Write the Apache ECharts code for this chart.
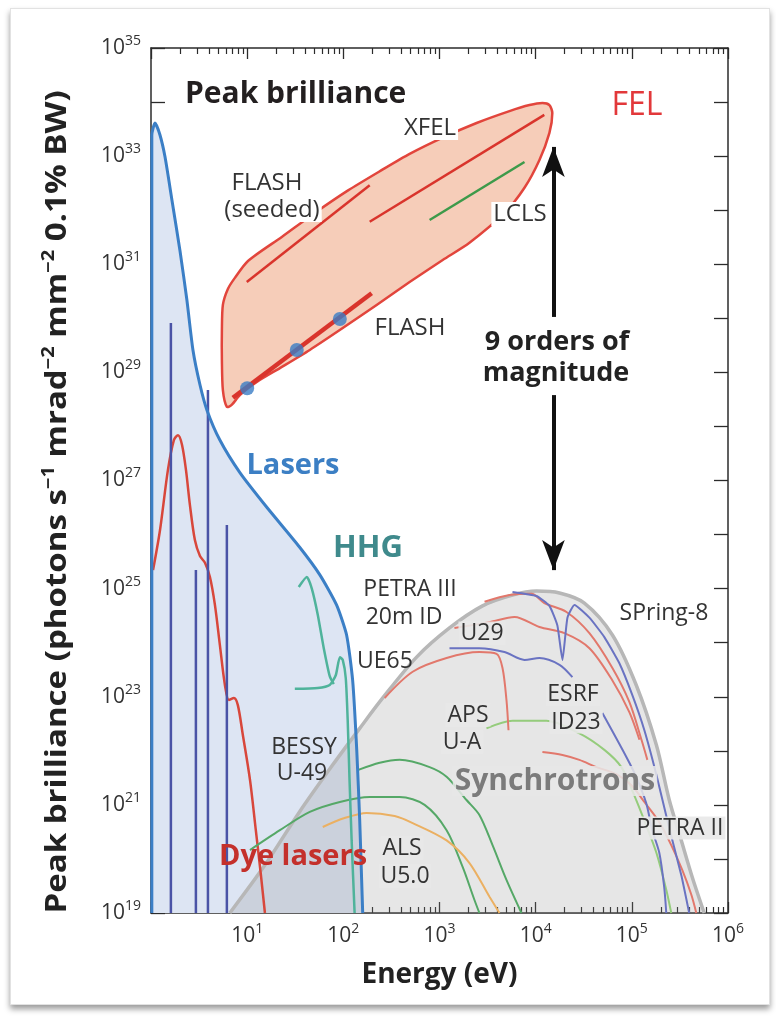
<!DOCTYPE html>
<html>
<head>
<meta charset="utf-8">
<title>Peak brilliance</title>
<script src="https://cdn.jsdelivr.net/npm/echarts@6/dist/echarts.min.js"></script>
<style>
    html, body { margin: 0; padding: 0; background: #fff; }
    #card {
        position: absolute; left: 10px; top: 8px; width: 758px; height: 995px;
        background: #fff; border: 1px solid #e2e2e2;
        box-shadow: 0 4px 6px rgba(0, 0, 0, 0.4);
    }
    #chart { position: absolute; left: 0; top: 0; width: 776px; height: 1023px; }
</style>
</head>
<body>
<div id="card"></div>
<div id="chart"></div>
<script>
    const FONT = '"Open Sans", "Noto Sans", sans-serif';

    // [energy eV, peak brilliance]
    const laserEnvelope = [[1.02, 1e19], [1.02, 2.46e33], [1.10, 4.1e33], [1.24, 2.46e33], [1.40, 9.6e32],
        [1.65, 1.55e32], [2.0, 1.8e31], [2.36, 2.2e30], [2.73, 2.6e29], [3.23, 5.9e28], [3.82, 2.0e28],
        [5.2, 5.6e27], [8.4, 1.4e27], [16, 3.2e26], [35, 5.9e25], [57, 1.8e25], [85, 5.0e24], [108, 1.4e24],
        [125, 2.0e23], [138, 1.0e22], [148, 5.2e20], [155, 4.1e19], [159, 1e19]];
    const dyeLasers = [[1.05, 2.2e25], [1.24, 1.2e26], [1.50, 1.57e27], [1.73, 5.6e27], [1.91, 6.9e27],
        [2.10, 4.6e27], [2.31, 1.57e27], [2.54, 3.5e26], [2.86, 7.9e25], [3.23, 4.0e25], [3.64, 3.0e25],
        [4.1, 1.64e25], [4.62, 5.0e24], [5.2, 9.1e23], [5.87, 1.65e23], [6.46, 8.7e22], [7.28, 9.5e22],
        [8.0, 7.0e22], [9.0, 2.0e22], [10.7, 2.9e21], [12.3, 3.4e20], [13.9, 5.0e19], [15.3, 1e19]];
    // single laser lines: [energy, top]
    const laserLines = [[1.61, 8.2e29], [2.93, 2.2e25], [3.91, 4.7e28], [6.15, 1.5e26]];
    const hhgHook = [[34.4, 1.07e25], [41.7, 1.64e25], [47, 1.0e25], [54.2, 3.3e24], [62.6, 7.9e23],
        [72.2, 2.4e23], [79.5, 1.72e23]];
    const hhgUE65 = [[31.3, 1.4e23], [54.2, 1.45e23], [72.2, 1.65e23], [83.4, 2.5e23], [92, 5.4e23],
        [98.6, 4.8e23], [106, 2.2e23], [111, 3.7e22], [116, 2.9e21], [122, 2.2e20], [131, 1e19]];

    const felOutline = [[6.15, 2.3e28], [5.59, 4.7e28], [5.46, 1.7e29], [5.46, 6.1e29], [5.59, 1.77e30],
        [6.3, 3.5e30], [7.45, 5.6e30], [10.2, 1.15e31], [22.9, 3.2e31], [50.5, 8.9e31], [111, 2.3e32],
        [250, 5.5e32], [489, 1.1e33], [1080, 2.2e33], [2430, 4.1e33], [5340, 6.8e33], [8630, 8.8e33],
        [11750, 9.6e33], [13900, 8.8e33], [14900, 6.3e33], [13900, 2.7e33], [10950, 8.5e32], [7650, 2.6e32],
        [4740, 8.9e31], [2050, 2.5e31], [1080, 1.2e31], [489, 4.7e30], [222, 1.77e30], [98.6, 6.6e29],
        [44.8, 2.6e29], [21.9, 1.2e29], [13.5, 7.2e28], [8.4, 3.8e28], [6.9, 2.5e28]];
    const flashSeeded = [[9.9, 4.7e30], [188, 2.9e32]];
    const xfel = [[188, 6.1e31], [12300, 5.8e33]];
    const lcls = [[789, 6.6e31], [7650, 7.8e32]];
    const flash = [[7.1, 3.4e28], [197, 2.9e30]];
    const flashPoints = [[10, 5.1e28], [32.8, 2.6e29], [92, 9.7e29]];

    const syncEnvelope = [[6.6, 1e19], [15.3, 7.7e19], [35, 7.4e20], [77.6, 5.5e21], [148, 2.6e22],
        [257, 9.5e22], [578, 5.4e23], [1270, 1.87e24], [2800, 4.8e24], [5740, 7.6e24], [10200, 9.0e24],
        [17700, 8.3e24], [32100, 5.4e24], [62800, 1.39e24], [111000, 1.65e23], [180000, 1.28e22],
        [245000, 1.23e21], [327000, 2.2e20], [425000, 4.6e19], [566000, 1e19]];
    const greenLow = [[10.7, 1.46e20], [21.9, 3.4e20], [44.8, 7.4e20], [92, 1.13e21], [188, 1.4e21],
        [385, 1.4e21], [700, 1.0e21], [1185, 3.4e20], [1740, 7.1e19], [2310, 1.74e19], [2600, 1e19]];
    const greenU49 = [[141, 4.4e21], [239, 6.0e21], [385, 6.8e21], [789, 5.0e21], [1185, 3.3e21],
        [1910, 1.23e21], [2600, 6.5e20], [3560, 1.8e20], [4970, 4.1e19], [7120, 1e19]];
    const greenAPS = [[3080, 2.6e22], [5740, 3.6e22], [12900, 3.6e22], [28500, 2.1e22], [51800, 1.04e22],
        [77800, 5.0e21], [106000, 1.5e21], [141000, 4.2e20], [180000, 1.3e20], [228000, 2.7e19], [257000, 1e19]];
    const orangeALS = [[61.1, 3.9e20], [103, 5.7e20], [175, 7.1e20], [342, 6.2e20], [526, 4.6e20],
        [1185, 2.2e20], [2050, 8.4e19], [3310, 2.0e19], [4200, 1e19]];
    const redUA = [[269, 9.5e22], [526, 2.9e23], [1185, 5.2e23], [2600, 6.7e23], [3920, 6.2e23],
        [4520, 3.4e23], [4970, 8.7e22], [5220, 2.4e22]];
    const redPetra3 = [[2940, 5.7e24], [5340, 7.6e24], [9040, 8.0e24], [12300, 5.4e24], [20900, 3.7e24],
        [36200, 1.5e24], [62800, 3.4e23], [94200, 8.0e22], [126000, 1.6e22], [145000, 6.8e21]];
    const redU29 = [[1430, 1.87e24], [3310, 2.4e24], [6030, 3.0e24], [10950, 1.95e24], [19900, 1.5e24],
        [36200, 7.9e23], [62800, 2.0e23], [94200, 5.2e22], [120000, 1.6e22]];
    const redPetra2 = [[11750, 9.5e21], [19000, 8.4e21], [28500, 6.8e21], [42800, 5.0e21], [69000, 3.7e21],
        [98900, 2.3e21], [135000, 1.13e21], [193000, 4.8e20], [257000, 1.8e20], [335000, 6.2e19],
        [415000, 2.2e19], [468000, 1e19]];
    const blueU29 = [[1270, 7.9e23], [2600, 7.9e23], [4740, 6.7e23], [7650, 4.8e23], [10950, 5.2e23],
        [17700, 3.9e23], [24100, 2.3e23]];
    const blueSpring8 = [[5740, 8.7e24], [10200, 7.3e24], [13900, 4.8e24], [16800, 2.1e24], [19000, 4.8e23],
        [21400, 2.9e24], [25300, 5.0e24], [36200, 2.9e24], [51800, 1.27e24], [74000, 4.2e23],
        [101000, 1.08e23], [135000, 2.4e22], [180000, 3.6e21], [245000, 3.7e20], [327000, 5.0e19], [395000, 1e19]];
    const blueESRF = [[49400, 5.0e22], [87700, 7.7e21], [111000, 3.3e21], [141000, 1.08e21], [163000, 3.4e20],
        [193000, 1.3e20], [217000, 3.0e19], [228000, 1e19]];

    // double arrow "9 orders of magnitude"
    const arrowUp = [[15300, 1.06e30], [15300, 1.48e33]];
    const arrowDown = [[15300, 3.8e28], [15300, 2.2e25]];

    // axis ticks
    const yTickValues = [1e19, 1e20, 1e21, 1e22, 1e23, 1e24, 1e25, 1e26, 1e27, 1e28, 1e29, 1e30, 1e31, 1e32, 1e33, 1e34, 1e35];
    const yLabelValues = [1e19, 1e21, 1e23, 1e25, 1e27, 1e29, 1e31, 1e33, 1e35];
    const xTickValues = [1, 10, 100, 1e3, 1e4, 1e5, 1e6];
    const xLabelValues = [10, 100, 1e3, 1e4, 1e5, 1e6];
    const xMinorValues = [];
    xTickValues.slice(0, -1).forEach(d => {
        [2, 3, 4, 5, 6, 7, 8, 9].forEach(f => xMinorValues.push(f * d));
    });

    const chart = echarts.init(document.getElementById('chart'));

    const supRich = {
        b: { fontSize: 21, color: '#333', fontFamily: FONT, lineHeight: 28 },
        s: { fontSize: 14, color: '#333', fontFamily: FONT, verticalAlign: 'top', lineHeight: 14 },
    };
    const powLabel = v => '{b|10}{s|' + Math.round(Math.log10(v)) + '}';
    const axisLine = { show: true, onZero: false, lineStyle: { color: '#2b2b2b', width: 1.5 } };

    function xAxis(position, opts) {
        return Object.assign({
            type: 'log', logBase: 10, min: 1, max: 1e6, position,
            axisLine, splitLine: { show: false }, axisLabel: { show: false },
            axisTick: { inside: true, length: 11, customValues: xTickValues, lineStyle: { color: '#2b2b2b', width: 1.3 } },
        }, opts);
    }
    function minorAxis(position) {
        return xAxis(position, {
            axisLine: { show: false },
            axisTick: { inside: true, length: 6, customValues: xMinorValues, lineStyle: { color: '#2b2b2b', width: 1.2 } },
        });
    }
    function yAxis(position, opts) {
        return Object.assign({
            type: 'log', logBase: 10, min: 1e19, max: 1e35, position,
            axisLine, splitLine: { show: false }, axisLabel: { show: false },
            axisTick: { inside: true, length: 14, customValues: yTickValues, lineStyle: { color: '#2b2b2b', width: 1.3 } },
        }, opts);
    }

    function curve(data, color, width, z, smooth) {
        return {
            type: 'line', data, symbol: 'none', smooth: smooth == null ? 0.3 : smooth,
            lineStyle: { color, width }, z: z || 5, silent: true,
        };
    }
    function area(data, color, z) {
        return {
            type: 'line', data, symbol: 'none', smooth: 0.3, z,
            lineStyle: { width: 0, opacity: 0 },
            areaStyle: { color, opacity: 1, origin: 'start' }, silent: true,
        };
    }

    const GREY_BG = 'rgba(232,232,232,0.9)';
    const texts = [
        // [text, x, y, font, color, align, background]
        ['Peak brilliance', 185, 94, 'bold 30px', '#231f20', 'left'],
        ['FEL', 637, 106, '32px', '#e2383a'],
        ['XFEL', 430, 128, '24px', '#333', 'center', '#fff'],
        ['FLASH', 267, 183, '24px', '#333'],
        ['(seeded)', 272, 210, '24px', '#333', 'center', '#fff'],
        ['LCLS', 520, 214, '24px', '#333', 'center', '#fff'],
        ['FLASH', 410, 328, '24px', '#333'],
        ['9 orders of', 557, 342, 'bold 27px', '#222', 'center', '#fff'],
        ['magnitude', 556, 373, 'bold 27px', '#222', 'center', '#fff'],
        ['Lasers', 293, 466, 'bold 29px', '#3c7fc4'],
        ['HHG', 368, 548, 'bold 31px', '#3f8a8c'],
        ['PETRA III', 410, 589, '23px', '#333'],
        ['20m ID', 404, 617, '23px', '#333'],
        ['U29', 482, 633, '23px', '#333', 'center', GREY_BG],
        ['SPring-8', 664, 613, '23px', '#333'],
        ['UE65', 385, 661, '23px', '#333'],
        ['APS', 468, 715, '23px', '#333', 'center', GREY_BG],
        ['U-A', 462, 742, '23px', '#333', 'center', GREY_BG],
        ['ESRF', 573, 694, '23px', '#333', 'center', GREY_BG],
        ['ID23', 576, 722, '23px', '#333', 'center', GREY_BG],
        ['BESSY', 304, 747, '23px', '#333'],
        ['U-49', 302, 773, '23px', '#333'],
        ['Synchrotrons', 555, 781, 'bold 30px', '#7b7b7b', 'center', 'rgba(232,232,232,0.85)'],
        ['PETRA II', 680, 828, '23px', '#333', 'center', GREY_BG],
        ['ALS', 402, 848, '23px', '#333', 'center', GREY_BG],
        ['U5.0', 405, 876, '23px', '#333', 'center', GREY_BG],
        ['Dye lasers', 293, 857, 'bold 29px', '#c4302b'],
    ];

    // y axis title, stretched along its length like the original
    const yTitle = {
        type: 'text', x: 58, y: 502, rotation: Math.PI / 2, scaleX: 1.18, scaleY: 1, z: 100,
        style: {
            text: 'Peak brilliance (photons s{s|−1} mrad{s|−2} mm{s|−2} 0.1% BW)',
            font: 'bold 28px ' + FONT, fill: '#222',
            textAlign: 'center', textVerticalAlign: 'middle', align: 'center', verticalAlign: 'middle',
            lineHeight: 34,
            rich: { s: { fontSize: 17, fontWeight: 'bold', fontFamily: FONT, fill: '#222', verticalAlign: 'top', lineHeight: 17 } },
        },
    };

    chart.setOption({
        animation: false,
        backgroundColor: 'transparent',
        grid: { left: 151, right: 48, top: 48, bottom: 110 },
        xAxis: [
            xAxis('bottom', {
                name: 'Energy (eV)', nameLocation: 'middle', nameGap: 48,
                nameTextStyle: { fontSize: 28, fontWeight: 'bold', color: '#222', fontFamily: FONT },
                axisLabel: { show: true, margin: 9, customValues: xLabelValues, formatter: powLabel, rich: supRich },
            }),
            xAxis('top'),
            minorAxis('bottom'),
            minorAxis('top'),
        ],
        yAxis: [
            yAxis('left', {
                axisLabel: { show: true, margin: 10, customValues: yLabelValues, formatter: powLabel, rich: supRich },
            }),
            yAxis('right'),
        ],
        graphic: [yTitle].concat(texts.map(t => ({
            type: 'text', x: t[1], y: t[2], z: 100,
            style: {
                text: t[0], font: t[3] + ' ' + FONT, fill: t[4],
                textAlign: t[5] || 'center', textVerticalAlign: 'middle',
                align: t[5] || 'center', verticalAlign: 'middle',
                backgroundColor: t[6] || null, padding: t[6] ? [0, 2] : 0,
            },
        }))),
        series: [
            area(laserEnvelope, '#dde5f3', 1),
            area(syncEnvelope, 'rgba(140,140,140,0.22)', 2),
            {
                type: 'custom', coordinateSystem: 'cartesian2d', data: [felOutline[0]], z: 3, silent: true,
                renderItem: (params, api) => ({
                    type: 'polygon',
                    shape: { points: felOutline.map(p => api.coord(p)), smooth: 0.25 },
                    style: { fill: '#f6cdb9', stroke: '#e2453c', lineWidth: 2.5 },
                }),
            },
            curve(syncEnvelope, '#b7b7b7', 3.5, 4),
            curve(dyeLasers, '#d8473b', 2.5, 5),
            ...laserLines.map(l => curve([[l[0], 1e19], [l[0], l[1]]], '#4a53a6', 2.5, 5, false)),
            curve(laserEnvelope, '#3b7fc6', 3, 6, 0.2),
            curve(hhgHook, '#4fb39b', 2.5, 6, 0.2),
            curve(hhgUE65, '#4fb39b', 2.5, 6, 0.2),
            curve(greenLow, '#55a867', 2, 5),
            curve(greenU49, '#55a867', 2, 5),
            curve(greenAPS, '#95cc7c', 2, 5),
            curve(orangeALS, '#ebb062', 2, 5),
            curve(redUA, '#e2786c', 2, 5),
            curve(redPetra3, '#e2786c', 2, 5),
            curve(redU29, '#e2786c', 2, 5),
            curve(redPetra2, '#e2786c', 2, 5),
            curve(blueU29, '#6a73c2', 2, 5),
            curve(blueSpring8, '#6a73c2', 2, 5, 0.15),
            curve(blueESRF, '#6a73c2', 2, 5),
            curve(flashSeeded, '#d9342c', 2.5, 7, false),
            curve(xfel, '#d9342c', 2.5, 7, false),
            Object.assign(curve(lcls, '#3d9a4a', 2.5, 7, false), {
                markLine: {
                    silent: true, symbol: ['none', 'arrow'], symbolSize: [17, 30],
                    lineStyle: { color: '#111', width: 4, type: 'solid' }, label: { show: false },
                    data: [
                        [{ coord: arrowUp[0] }, { coord: arrowUp[1] }],
                        [{ coord: arrowDown[0] }, { coord: arrowDown[1] }],
                    ],
                },
            }),
            curve(flash, '#d9342c', 4.5, 7, false),
            {
                type: 'scatter', data: flashPoints, symbolSize: 14, z: 8, silent: true,
                itemStyle: { color: '#3a7dc6' },
            },
        ],
    });
</script>
</body>
</html>
